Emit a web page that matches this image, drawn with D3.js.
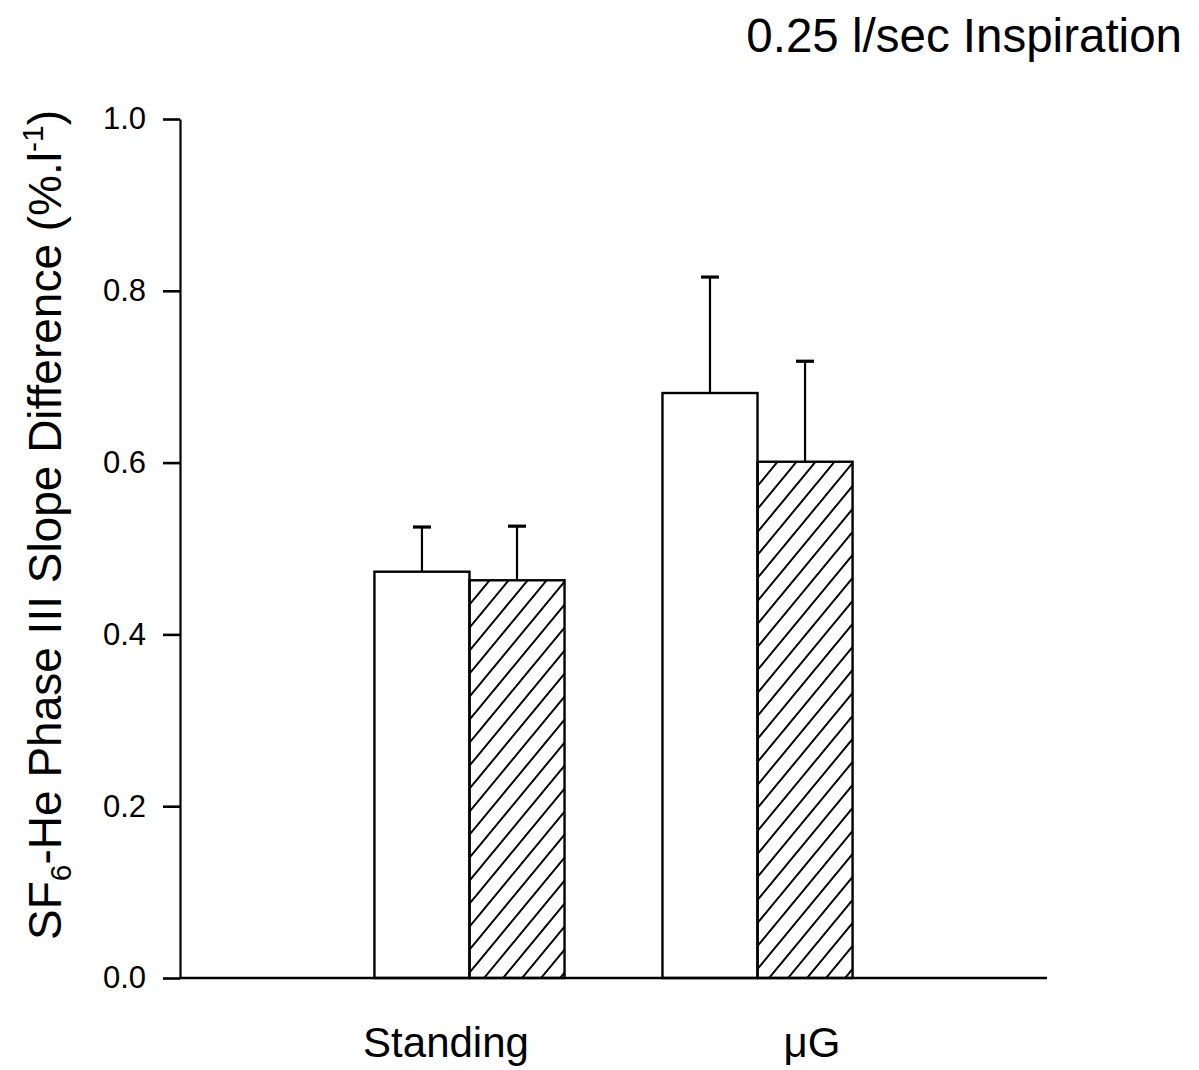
<!DOCTYPE html>
<html><head><meta charset="utf-8">
<script src="https://cdn.jsdelivr.net/npm/d3@7"></script>
<style>body{margin:0;background:#fff}svg{display:block}text{font-family:"Liberation Sans",Arial,sans-serif;fill:#000}</style>
</head><body>
<script>
const categories = ["Standing", "\u03BCG"];
const seriesNames = ["open", "hatched"];
const openMeans = [0.473, 0.681];
const openErr = [0.525, 0.816];
const hatchMeans = [0.463, 0.601];
const hatchErr = [0.526, 0.718];
const yTicks = [0, 0.2, 0.4, 0.6, 0.8, 1.0];

const W = 1199, H = 1070;
const svg = d3.select("body").append("svg").attr("width", W).attr("height", H);

const x0 = 180, x1 = 1047, yTop = 119, yBot = 978;
const y = d3.scaleLinear().domain([0, 1]).range([yBot, yTop]);
const xg = d3.scaleBand().domain(categories).range([x0, x1]).paddingInner(0.34).paddingOuter(0.675);
const xs = d3.scaleBand().domain(seriesNames).range([0, xg.bandwidth()]);
const xl = d3.scalePoint().domain(categories).range([446, 812]);

const defs = svg.append("defs");
const pat = defs.append("pattern").attr("id", "hatch").attr("patternUnits", "userSpaceOnUse")
  .attr("width", 19).attr("height", 23);
pat.append("path").attr("d", "M0,23 L19,0 M-4,5 L4,-5 M15,28 L23,18")
  .attr("stroke", "#000").attr("stroke-width", 2);

const data = [];
categories.forEach((c, i) => {
  data.push({cat: c, s: "open", v: openMeans[i], e: openErr[i]});
  data.push({cat: c, s: "hatched", v: hatchMeans[i], e: hatchErr[i]});
});

// error bars (behind bars)
const eb = svg.append("g").attr("stroke", "#000");
data.forEach(d => {
  const cx = xg(d.cat) + xs(d.s) + xs.bandwidth() / 2;
  eb.append("line").attr("x1", cx).attr("x2", cx).attr("y1", y(d.v)).attr("y2", y(d.e)).attr("stroke-width", 2.2);
  eb.append("line").attr("x1", cx - 9).attr("x2", cx + 9).attr("y1", y(d.e)).attr("y2", y(d.e)).attr("stroke-width", 3.2);
});

svg.append("g").selectAll("rect").data(data).join("rect")
  .attr("x", d => xg(d.cat) + xs(d.s))
  .attr("y", d => y(d.v))
  .attr("width", xs.bandwidth())
  .attr("height", d => y(0) - y(d.v))
  .attr("fill", d => d.s === "open" ? "#fff" : "url(#hatch)")
  .attr("stroke", "#000").attr("stroke-width", 2.4);

// y axis
const ya = svg.append("g").attr("transform", `translate(${x0},0)`)
  .call(d3.axisLeft(y).tickValues(yTicks).tickFormat(d3.format(".1f")).tickSize(17).tickPadding(17).tickSizeOuter(0));
ya.attr("font-size", 31).attr("font-family", "Liberation Sans, Arial, sans-serif");
ya.select(".domain").attr("stroke-width", 2.2);
ya.selectAll(".tick line").attr("stroke-width", 2.6);
ya.selectAll(".tick text").attr("font-size", 31).attr("fill", "#000");

// x axis line
svg.append("line").attr("x1", x0).attr("x2", x1).attr("y1", y(0)).attr("y2", y(0))
  .attr("stroke", "#000").attr("stroke-width", 2.4);

// category labels
svg.append("g").selectAll("text").data(categories).join("text")
  .attr("x", d => xl(d)).attr("y", 1057).attr("text-anchor", "middle")
  .attr("font-size", 42).text(d => d);

// title
svg.append("text").attr("x", 1182).attr("y", 52).attr("text-anchor", "end")
  .attr("font-size", 47.5).text("0.25 l/sec Inspiration");

// y label
const yl = svg.append("text").attr("transform", "translate(61,525) rotate(-90)")
  .attr("text-anchor", "middle").attr("font-size", 46);
yl.append("tspan").text("SF");
yl.append("tspan").attr("font-size", 30).attr("dy", 10).text("6");
yl.append("tspan").attr("dy", -10).text("-He Phase III Slope Difference (%.l");
yl.append("tspan").attr("font-size", 30).attr("dy", -18).text("-1");
yl.append("tspan").attr("dy", 18).text(")");
</script>
</body></html>
